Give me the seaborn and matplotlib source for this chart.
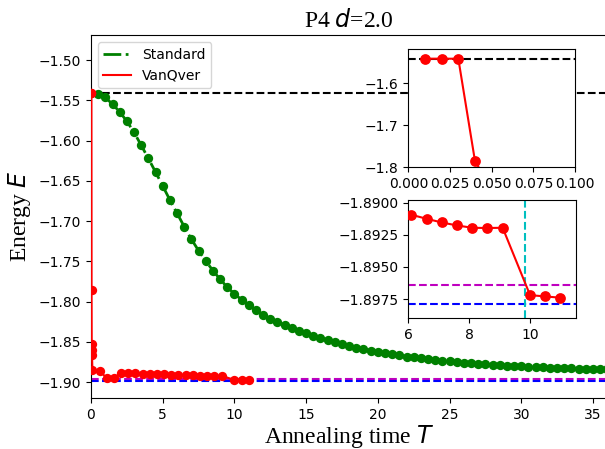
import numpy as np
import pandas as pd
import matplotlib
matplotlib.use("Agg")
import matplotlib.pyplot as plt
import seaborn as sns

# ---------------- data ----------------
std_T = [0.5, 1.0, 1.5, 2.0, 2.5, 3.0, 3.5, 4.0, 4.5, 5.0,
         5.5, 6.0, 6.5, 7.0, 7.5, 8.0, 8.5, 9.0, 9.5, 10.0,
         10.5, 11.0, 11.5, 12.0, 12.5, 13.0, 13.5, 14.0, 14.5, 15.0,
         15.5, 16.0, 16.5, 17.0, 17.5, 18.0, 18.5, 19.0, 19.5, 20.0,
         20.5, 21.0, 21.5, 22.0, 22.5, 23.0, 23.5, 24.0, 24.5, 25.0,
         25.5, 26.0, 26.5, 27.0, 27.5, 28.0, 28.5, 29.0, 29.5, 30.0,
         30.5, 31.0, 31.5, 32.0, 32.5, 33.0, 33.5, 34.0, 34.5, 35.0,
         35.5, 36.0]
std_E = [-1.5422, -1.5465, -1.5548, -1.5643, -1.5760, -1.5897, -1.6058, -1.6222, -1.6390, -1.6563,
         -1.6737, -1.6902, -1.7068, -1.7225, -1.7366, -1.7494, -1.7614, -1.7721, -1.7820, -1.7903,
         -1.7976, -1.8042, -1.8103, -1.8162, -1.8210, -1.8252, -1.8292, -1.8329, -1.8362, -1.8392,
         -1.8421, -1.8450, -1.8477, -1.8503, -1.8527, -1.8550, -1.8571, -1.8590, -1.8608, -1.8624,
         -1.8640, -1.8654, -1.8668, -1.8681, -1.8693, -1.8704, -1.8714, -1.8724, -1.8733, -1.8741,
         -1.8749, -1.8757, -1.8764, -1.8771, -1.8777, -1.8783, -1.8789, -1.8794, -1.8799, -1.8804,
         -1.8808, -1.8812, -1.8816, -1.8820, -1.8823, -1.8826, -1.8829, -1.8832, -1.8835, -1.8838,
         -1.8840, -1.8842]

van_T = [0.01, 0.02, 0.03, 0.04, 0.05, 0.06, 0.07, 0.1, 0.6, 1.1,
         1.6, 2.1, 2.6, 3.1, 3.6, 4.1, 4.6, 5.1, 5.6, 6.1,
         6.6, 7.1, 7.6, 8.1, 8.6, 9.1, 10.0, 10.5, 11.0]
van_E = [-1.5414, -1.5414, -1.5414, -1.7850, -1.8530, -1.8600, -1.8665, -1.8850, -1.8860, -1.8950,
         -1.8950, -1.8880, -1.8884, -1.8888, -1.8892, -1.8896, -1.8899, -1.8902, -1.8906, -1.89095,
         -1.89126, -1.89155, -1.89178, -1.89196, -1.89198, -1.89196, -1.8972, -1.8973, -1.8974]

E_start = -1.5414      # black dashed reference
E_magenta = -1.8964    # magenta dashed reference
E_blue = -1.8979       # blue dashed reference
T_cyan = 9.85          # cyan vertical marker

std_df = pd.DataFrame({"T": std_T, "E": std_E})
van_df = pd.DataFrame({"T": van_T, "E": van_E})

# ---------------- figure ----------------
fig = plt.figure(figsize=(6.05, 4.49), dpi=100)
ax = fig.add_axes([0.1504, 0.1129, 0.8534, 0.809])

ax.axhline(E_start, color="k", ls="--", lw=1.5, zorder=1)
ax.axhline(E_magenta, color="m", ls="--", lw=1.5, zorder=1)
ax.axhline(E_blue, color="b", ls="--", lw=1.5, zorder=1)

sns.lineplot(data=std_df, x="T", y="E", ax=ax, color="g", linestyle="-.", lw=2,
             label="Standard", estimator=None, zorder=2)
sns.scatterplot(data=std_df, x="T", y="E", ax=ax, color="g", s=45, linewidth=0,
                zorder=2, legend=False)
sns.lineplot(data=van_df, x="T", y="E", ax=ax, color="r", lw=1.5,
             label="VanQver", estimator=None, zorder=3)
sns.scatterplot(data=van_df, x="T", y="E", ax=ax, color="r", s=45, linewidth=0,
                zorder=3, legend=False)

ax.set_xlim(0, 36)
ax.set_ylim(-1.920, -1.469)
ax.set_xticks([0, 5, 10, 15, 20, 25, 30, 35])
ax.set_yticks([-1.50, -1.55, -1.60, -1.65, -1.70, -1.75, -1.80, -1.85, -1.90])
ax.set_yticklabels(["\u22121.50", "\u22121.55", "\u22121.60", "\u22121.65", "\u22121.70",
                    "\u22121.75", "\u22121.80", "\u22121.85", "\u22121.90"])
ax.tick_params(labelsize=10)
ax.set_xlabel("Annealing time $T$", fontsize=17, family="Liberation Serif", labelpad=1)
ax.set_ylabel("Energy $E$", fontsize=17, family="Liberation Serif")
ax.set_title("P4 $d$=2.0", fontsize=17, family="Liberation Serif")
ax.legend(loc="upper left", fontsize=10)

# ---------------- inset 1 ----------------
ax1 = fig.add_axes([0.6749, 0.6274, 0.2755, 0.2628])
ax1.axhline(E_start, color="k", ls="--", lw=1.5, zorder=1)
sns.lineplot(data=van_df, x="T", y="E", ax=ax1, color="r", lw=1.5,
             estimator=None, zorder=3)
sns.scatterplot(data=van_df, x="T", y="E", ax=ax1, color="r", s=60, linewidth=0,
                zorder=3, legend=False)
ax1.set_xlim(0, 0.1)
ax1.set_ylim(-1.8, -1.519)
ax1.set_xticks([0.0, 0.025, 0.05, 0.075, 0.1])
ax1.set_xticklabels(["0.000", "0.025", "0.050", "0.075", "0.100"])
ax1.set_yticks([-1.6, -1.7, -1.8])
ax1.set_yticklabels(["\u22121.6", "\u22121.7", "\u22121.8"])
ax1.set_xlabel("")
ax1.set_ylabel("")
ax1.tick_params(labelsize=10)

# ---------------- inset 2 ----------------
ax2 = fig.add_axes([0.6749, 0.2911, 0.2767, 0.2635])
ax2.axhline(E_magenta, color="m", ls="--", lw=1.5, zorder=1)
ax2.axhline(E_blue, color="b", ls="--", lw=1.5, zorder=1)
ax2.axvline(T_cyan, color="c", ls="--", lw=1.5, zorder=1)
sns.lineplot(data=van_df, x="T", y="E", ax=ax2, color="r", lw=1.5,
             estimator=None, zorder=3)
sns.scatterplot(data=van_df, x="T", y="E", ax=ax2, color="r", s=60, linewidth=0,
                zorder=3, legend=False)
ax2.set_xlim(6, 11.5)
ax2.set_ylim(-1.8990, -1.8898)
ax2.set_xticks([6, 8, 10])
ax2.set_yticks([-1.8900, -1.8925, -1.8950, -1.8975])
ax2.set_yticklabels(["\u22121.8900", "\u22121.8925", "\u22121.8950", "\u22121.8975"])
ax2.set_xlabel("")
ax2.set_ylabel("")
ax2.tick_params(labelsize=10)

fig.savefig("out.png", dpi=100)
